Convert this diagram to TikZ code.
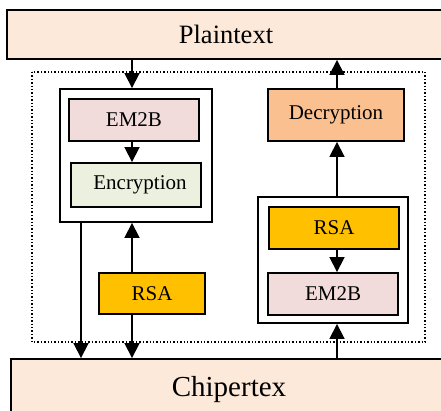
\documentclass[tikz,border=0pt]{standalone}
\usepackage{fontspec}
\setmainfont{Liberation Serif}
\usetikzlibrary{arrows.meta}
\definecolor{peach}{HTML}{FDE9D9}
\definecolor{rosy}{HTML}{F2DCDB}
\definecolor{sage}{HTML}{EBF1DE}
\definecolor{apricot}{HTML}{FAC090}
\definecolor{amber}{HTML}{FFC000}
\tikzset{
  box/.style={draw=black, line width=1.9pt, rectangle, inner sep=0pt, font=\fontsize{21}{25}\selectfont},
  frame/.style={draw=black, line width=1.9pt, fill=white, rectangle, inner sep=0pt},
  arr/.style={line width=1.8pt, -{Triangle[length=15pt,width=15pt]}},
}
\begin{document}
\begin{tikzpicture}[x=1pt,y=-1pt]
\useasboundingbox (0,0) rectangle (441,410);
\clip (0,0) rectangle (441,410);

% dotted system boundary
\draw[line width=1.4pt, dotted] (32,72) rectangle (425,342);

% top and bottom bars
\node[box, fill=peach, minimum width=438pt, minimum height=49pt, font=\fontsize{26.5}{30}\selectfont]
  (plain) at (226,34.5) {Plaintext};
\node[box, fill=peach, minimum width=436pt, minimum height=62pt, font=\fontsize{29}{33}\selectfont]
  (chip) at (229,390) {\raisebox{4pt}{Chipertex}};

% encryption side
\node[frame, minimum width=152pt, minimum height=133pt] (lbox) at (136,155.5) {};
\node[box, fill=rosy, minimum width=130pt, minimum height=42pt] (em2bL) at (134,120) {EM2B};
\node[box, fill=sage, minimum width=130pt, minimum height=44pt] (enc) at (136,185) {\hspace{8pt}Encryption};
\node[box, fill=amber, minimum width=106pt, minimum height=41pt] (rsaL) at (152,293.5) {RSA};

% decryption side
\node[box, fill=apricot, minimum width=136pt, minimum height=52pt] (dec) at (336,115) {\raisebox{3pt}{Decryption}};
\node[frame, minimum width=150pt, minimum height=126pt] (rbox) at (333,260) {};
\node[box, fill=amber, minimum width=130pt, minimum height=42pt] (rsaR) at (334,228) {RSA};
\node[box, fill=rosy, minimum width=130pt, minimum height=42pt] (em2bR) at (333,294) {EM2B};

% connector columns
\coordinate (cA) at (81,0);
\coordinate (cB) at (132,0);
\coordinate (cC) at (337,0);

% encryption flow
\draw[arr] (cB |- plain.south) -- (cB |- lbox.north);
\draw[arr] (cB |- em2bL.south) -- (cB |- enc.north);
\draw[arr] (cA |- lbox.south) -- (cA |- chip.north);
\draw[arr] (cB |- rsaL.north) -- (cB |- lbox.south);
\draw[arr] (cB |- rsaL.south) -- (cB |- chip.north);

% decryption flow
\draw[arr] (cC |- chip.north) -- (cC |- rbox.south);
\draw[arr] (cC |- rsaR.south) -- (cC |- em2bR.north);
\draw[arr] (cC |- rbox.north) -- (cC |- dec.south);
\draw[arr] (cC |- dec.north) -- (cC |- plain.south);
\end{tikzpicture}
\end{document}
